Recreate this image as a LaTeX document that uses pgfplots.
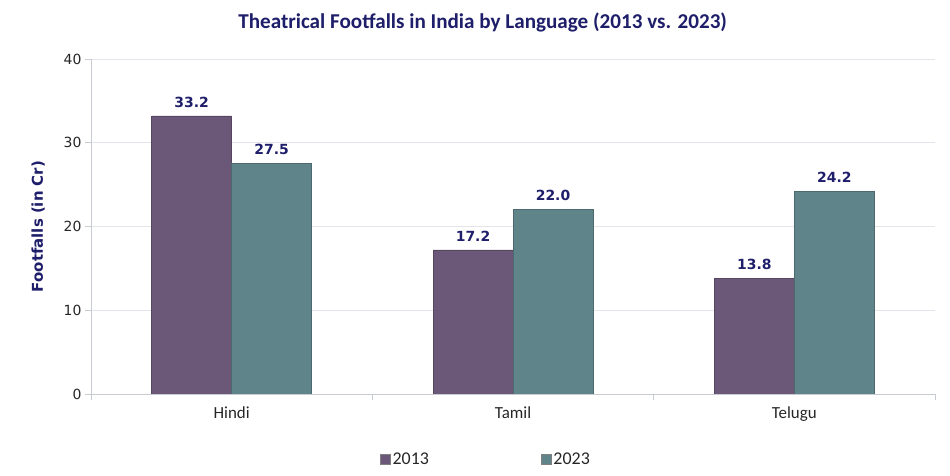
\documentclass[border=0pt]{standalone}
\usepackage{fontspec}
\setmainfont{Carlito}
\newfontfamily\dejavu{DejaVu Sans}
\usepackage{pgfplots}
\pgfplotsset{compat=1.18}
\definecolor{cA}{HTML}{6B5878}
\definecolor{cB}{HTML}{5F848A}
\definecolor{navy}{HTML}{1E1E6A}
\definecolor{axgray}{HTML}{C8CBD2}
\definecolor{gridgray}{HTML}{E3E5EA}
\begin{document}
\begin{tikzpicture}
\useasboundingbox (-91bp,-82bp) rectangle (859bp,394bp);
\begin{axis}[
    at={(0,0)}, anchor=south west,
    scale only axis,
    width=844bp, height=335bp,
    ybar=0pt, bar width=80bp,
    xmin=-0.5, xmax=2.5,
    ymin=0, ymax=40,
    xtick={0,1,2},
    xticklabels={Hindi,Tamil,Telugu},
    minor xtick={-0.5,0.5,1.5,2.5},
    ytick={0,10,20,30,40},
    axis x line*=bottom,
    axis y line*=left,
    axis line style={draw=axgray, line width=0.8bp},
    tick align=outside,
    major x tick style={draw=none},
    minor x tick style={draw=axgray, line width=0.8bp},
    minor tick length=6bp,
    major tick length=6bp,
    ytick style={draw=axgray, line width=0.8bp},
    ymajorgrids,
    grid style={draw=gridgray, line width=0.8bp},
    x tick label style={font=\fontsize{17}{19}\selectfont, text=black!85, yshift=-3bp},
    y tick label style={font=\dejavu\fontsize{14}{16}\selectfont, text=black!85},
    /pgf/number format/assume math mode=true,
    ylabel={\dejavu\bfseries Footfalls (in Cr)},
    ylabel style={font=\fontsize{15}{18}\selectfont, text=navy},
    ylabel shift=12bp,
    title={\bfseries Theatrical Footfalls in India by Language (2013 vs. 2023)},
    title style={font=\fontsize{21.2}{25}\selectfont, text=navy, at={(0.464,1)}, anchor=center, yshift=31bp},
    nodes near coords,
    nodes near coords style={font=\dejavu\bfseries\fontsize{14}{16}\selectfont, text=navy, /pgf/number format/fixed, /pgf/number format/fixed zerofill, /pgf/number format/precision=1, yshift=5bp},
    legend columns=2,
    legend style={at={(0.468,-0.194)}, anchor=center, draw=none, font=\fontsize{18}{20}\selectfont, text=black!85, /tikz/every even column/.append style={column sep=110bp}},
    legend image code/.code={\draw[#1, draw=black!50] (0bp,-5bp) rectangle (10bp,5bp);},
]
\addplot[fill=cA, draw=cA!80!black, line width=0.5bp] coordinates {(0,33.2) (1,17.2) (2,13.8)};
\addplot[fill=cB, draw=cB!80!black, line width=0.5bp] coordinates {(0,27.5) (1,22.0) (2,24.2)};
\legend{2013,2023}
\end{axis}
\end{tikzpicture}
\end{document}
